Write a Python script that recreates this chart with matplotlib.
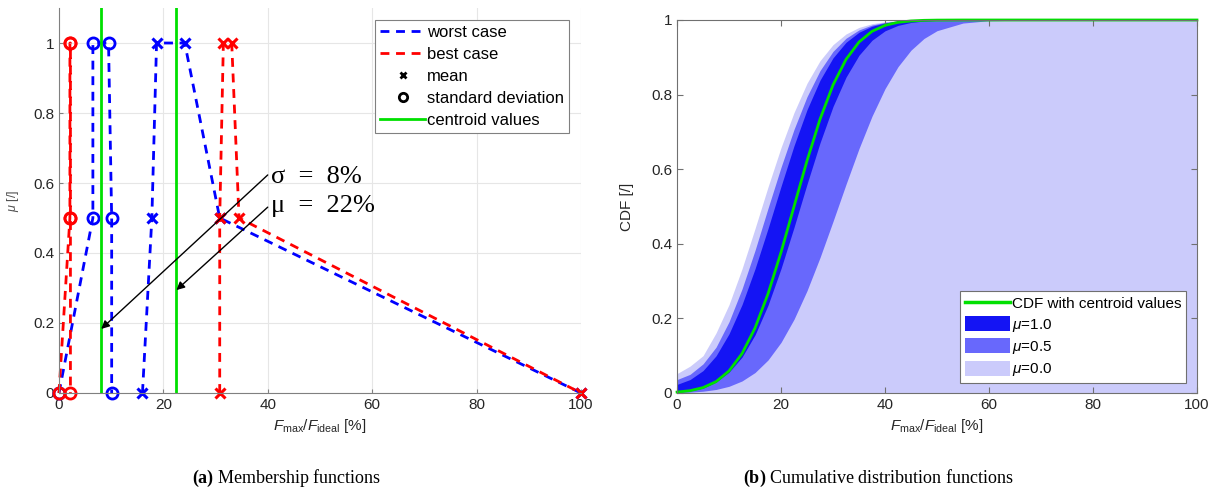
import numpy as np
import matplotlib.pyplot as plt
from matplotlib.lines import Line2D
from matplotlib.patches import Patch

plt.rcParams['font.family'] = 'Liberation Sans'
plt.rcParams['mathtext.fontset'] = 'custom'
plt.rcParams['mathtext.rm'] = 'Liberation Sans'
plt.rcParams['mathtext.it'] = 'Liberation Sans:italic'
plt.rcParams['mathtext.bf'] = 'Liberation Serif:bold'

#---------------------Membership functions------------------
mu_lvl = [0, 0.5, 1, 1, 0.5, 0]
worst_mean = [16.0, 17.8, 18.7, 24.1, 30.8, 100]
worst_std = [0, 6.5, 6.5, 9.5, 10.1, 10.1]
best_mean = [30.8, 30.8, 31.5, 33.1, 34.5, 100]
best_std = [0, 2.1, 2.1, 2.2, 2.2, 2.2]
centroid_std = 8.1
centroid_mean = 22.5

#---------------------CDF bands------------------------------------------------
cdf_x = [0, 2.5, 5, 7.5, 10, 12.5, 15, 17.5, 20, 22.5, 25, 27.5, 30, 32.5,
         35, 37.5, 40, 42.5, 45, 47.5, 50, 55, 60, 70, 100]
cdf_centroid = [0.0025, 0.0062, 0.0144, 0.0304, 0.0591, 0.1056, 0.1742, 0.2660,
                0.3773, 0.5, 0.6227, 0.7340, 0.8258, 0.8944, 0.9409, 0.9696,
                0.9856, 0.9938, 0.9975, 0.9991, 0.9997, 1.0, 1.0, 1.0, 1.0]
mu0_upper = [0.052, 0.072, 0.100, 0.161, 0.237, 0.333, 0.441, 0.5525, 0.658,
             0.752, 0.8305, 0.8908, 0.9339, 0.9625, 0.9801, 0.9901, 0.9954,
             0.998, 0.9992, 0.9997, 1.0, 1.0, 1.0, 1.0, 1.0]
mu0_lower = [0.0]*len(cdf_x)
mu05_upper = [0.036, 0.050, 0.078, 0.1228, 0.191, 0.279, 0.3825, 0.4954, 0.6052,
              0.7068, 0.7945, 0.8643, 0.9159, 0.9511, 0.9734, 0.9865, 0.9936,
              0.9972, 0.9988, 0.9995, 0.9998, 1.0, 1.0, 1.0, 1.0]
mu05_lower = [0.001, 0.0022, 0.0047, 0.0094, 0.0179, 0.0322, 0.0548, 0.0885,
              0.1357, 0.1977, 0.2743, 0.3632, 0.4602, 0.5596, 0.6554, 0.7422,
              0.8159, 0.8749, 0.9192, 0.9505, 0.9713, 0.9918, 0.9981, 1.0, 1.0]
mu1_upper = [0.023, 0.036, 0.060, 0.0996, 0.1587, 0.237, 0.333, 0.441, 0.554,
             0.663, 0.7596, 0.8387, 0.8985, 0.9402, 0.9672, 0.9832, 0.9920,
             0.9965, 0.9985, 0.9994, 0.9998, 1.0, 1.0, 1.0, 1.0]
mu1_lower = [0.002, 0.0055, 0.013, 0.0290, 0.0556, 0.0964, 0.1558, 0.2355,
             0.3336, 0.4443, 0.560, 0.6707, 0.7682, 0.8468, 0.9056, 0.9457,
             0.971, 0.9856, 0.9934, 0.9972, 0.9989, 0.9999, 1.0, 1.0, 1.0]

green = '#00e000'
tcol = '#262626'

fig = plt.figure(figsize=(12.23, 4.95), dpi=100)
ax1 = fig.add_axes([0.0482, 0.2061, 0.4268, 0.7777])
ax2 = fig.add_axes([0.5536, 0.2061, 0.4251, 0.7535])

#-------------------Left: membership functions-------------------------------
lkw = dict(linestyle='--', dashes=(3.2, 2.4), lw=2, clip_on=False)
ax1.plot(worst_mean, mu_lvl, color='b', marker='x', ms=7, mew=2.2, **lkw)
ax1.plot(worst_std, mu_lvl, color='b', marker='o', ms=8, mew=2,
         mfc='none', **lkw)
ax1.plot(best_mean, mu_lvl, color='r', marker='x', ms=7, mew=2.2, **lkw)
ax1.plot(best_std, mu_lvl, color='r', marker='o', ms=8, mew=2,
         mfc='none', **lkw)
ax1.axvline(centroid_std, color=green, lw=2)
ax1.axvline(centroid_mean, color=green, lw=2)

ax1.annotate('', xy=(centroid_std, 0.183), xytext=(40, 0.623),
             arrowprops=dict(arrowstyle='-|>', color='k', lw=1,
                             mutation_scale=12, shrinkA=0, shrinkB=0))
ax1.annotate('', xy=(centroid_mean, 0.294), xytext=(40, 0.531),
             arrowprops=dict(arrowstyle='-|>', color='k', lw=1,
                             mutation_scale=12, shrinkA=0, shrinkB=0))
ax1.text(40.6, 0.617, 'σ  =  8%', family='Liberation Serif', fontsize=19,
         va='center', ha='left')
ax1.text(40.6, 0.535, 'μ  =  22%', family='Liberation Serif', fontsize=19,
         va='center', ha='left')

ax1.set_xlim(0, 100)
ax1.set_ylim(0, 1.1)
ax1.set_xticks([0, 20, 40, 60, 80, 100])
ax1.set_yticks([0, 0.2, 0.4, 0.6, 0.8, 1])
ax1.set_yticklabels(['0', '0.2', '0.4', '0.6', '0.8', '1'])
ax1.grid(True, color='#e6e6e6', lw=0.8)
ax1.set_axisbelow(True)
for s in ['top', 'right']:
    ax1.spines[s].set_visible(False)
for s in ['left', 'bottom']:
    ax1.spines[s].set_color('#808080')
ax1.tick_params(direction='in', length=3, labelsize=11, colors='#808080',
                labelcolor=tcol)
ax1.set_xlabel(r'$F_{\rm max}/F_{\rm ideal}$ [%]', fontsize=11, color=tcol,
               labelpad=4)
ax1.set_ylabel(r'$\mu$ [/]', fontsize=9, color='#505050')
ax1.yaxis.set_label_coords(-0.072, 0.5)

handles1 = [Line2D([], [], color='b', ls='--', dashes=(3.2, 2.4), lw=2),
            Line2D([], [], color='r', ls='--', dashes=(3.2, 2.4), lw=2),
            Line2D([], [], color='k', ls='none', marker='x', ms=5, mew=2),
            Line2D([], [], color='k', ls='none', marker='o', ms=6, mew=2,
                   mfc='none'),
            Line2D([], [], color=green, lw=2)]
labels1 = ['worst case', 'best case', 'mean', 'standard deviation',
           'centroid values']
leg1 = ax1.legend(handles1, labels1, loc='upper right',
                  bbox_to_anchor=(0.977, 0.969), borderaxespad=0,
                  fontsize=12, handlelength=2.7, handletextpad=0.1,
                  labelspacing=0.42, fancybox=False, framealpha=1,
                  borderpad=0.3)
leg1.get_frame().set_edgecolor('#808080')
leg1.get_frame().set_linewidth(0.8)

#-------------------Right: cumulative distribution functions-----------------
c0 = '#cbcbfb'
c05 = '#6868fc'
c1 = '#1414f4'
ax2.fill_between(cdf_x, mu0_lower, mu0_upper, color=c0, lw=0)
ax2.fill_between(cdf_x, mu05_lower, mu05_upper, color=c05, lw=0)
ax2.fill_between(cdf_x, mu1_lower, mu1_upper, color=c1, lw=0)
ax2.plot(cdf_x, cdf_centroid, color=green, lw=2, clip_on=False)

ax2.set_xlim(0, 100)
ax2.set_ylim(0, 1)
ax2.set_xticks([0, 20, 40, 60, 80, 100])
ax2.set_yticks([0, 0.2, 0.4, 0.6, 0.8, 1])
ax2.set_yticklabels(['0', '0.2', '0.4', '0.6', '0.8', '1'])
for s in ax2.spines.values():
    s.set_color('#707070')
ax2.tick_params(direction='in', length=4, labelsize=11, colors='#707070',
                labelcolor=tcol, top=True, right=True)
ax2.set_xlabel(r'$F_{\rm max}/F_{\rm ideal}$ [%]', fontsize=11, color=tcol,
               labelpad=4)
ax2.set_ylabel('CDF [/]', fontsize=11, color=tcol)
ax2.yaxis.set_label_coords(-0.083, 0.5)

handles2 = [Line2D([], [], color=green, lw=2.5),
            Patch(facecolor=c1), Patch(facecolor=c05), Patch(facecolor=c0)]
labels2 = ['CDF with centroid values', r'$\mu$=1.0', r'$\mu$=0.5',
           r'$\mu$=0.0']
leg2 = ax2.legend(handles2, labels2, loc='lower right',
                  bbox_to_anchor=(0.979, 0.027), borderaxespad=0,
                  fontsize=11, handlelength=3.0, handleheight=1.15,
                  handletextpad=0.1, labelspacing=0.3, fancybox=False,
                  framealpha=1, borderpad=0.3)
leg2.get_frame().set_edgecolor('#707070')
leg2.get_frame().set_linewidth(0.8)

#-------------------Captions--------------------------------------------------
fig.text(0.234, 0.034, r'$\mathbf{(a)}$ Membership functions',
         family='Liberation Serif', fontsize=13, ha='center', va='center')
fig.text(0.718, 0.034, r'$\mathbf{(b)}$ Cumulative distribution functions',
         family='Liberation Serif', fontsize=13, ha='center', va='center')

fig.savefig('out.png', dpi=100)
